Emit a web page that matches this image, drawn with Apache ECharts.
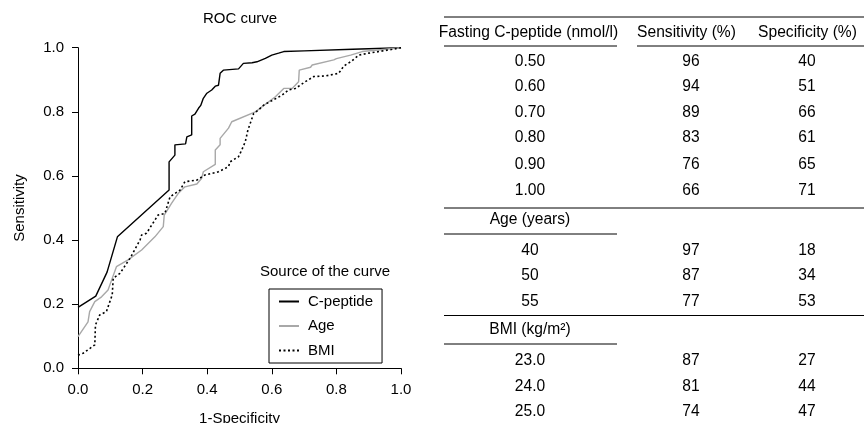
<!DOCTYPE html>
<html><head><meta charset="utf-8">
<script src="https://cdn.jsdelivr.net/npm/echarts@6/dist/echarts.min.js"></script>
<style>html,body{margin:0;padding:0;background:#fff}#c{width:864px;height:423px}</style>
</head><body><div id="c"></div>
<script>
// ROC curve data [1-specificity, sensitivity]
const cPeptideRoc = [[0,0.19],[0.055,0.225],[0.09,0.30],[0.122,0.41],[0.282,0.556],[0.282,0.644],[0.30,0.665],[0.30,0.697],[0.333,0.70],[0.337,0.722],[0.352,0.728],[0.352,0.787],[0.362,0.793],[0.373,0.811],[0.38,0.82],[0.388,0.842],[0.399,0.858],[0.414,0.868],[0.425,0.88],[0.435,0.883],[0.44,0.92],[0.45,0.93],[0.497,0.934],[0.512,0.951],[0.539,0.953],[0.554,0.956],[0.58,0.967],[0.60,0.977],[0.621,0.983],[0.637,0.988],[0.70,0.99],[0.85,0.995],[1,1]];
const ageRoc = [[0,0.099],[0.031,0.145],[0.036,0.177],[0.052,0.208],[0.073,0.223],[0.093,0.244],[0.104,0.275],[0.119,0.317],[0.155,0.338],[0.197,0.369],[0.238,0.41],[0.264,0.442],[0.267,0.478],[0.29,0.515],[0.31,0.545],[0.331,0.566],[0.368,0.575],[0.383,0.593],[0.388,0.613],[0.425,0.636],[0.425,0.681],[0.44,0.697],[0.44,0.717],[0.466,0.749],[0.476,0.769],[0.549,0.80],[0.611,0.847],[0.637,0.873],[0.663,0.873],[0.683,0.894],[0.685,0.93],[0.72,0.939],[0.725,0.946],[0.792,0.962],[0.80,0.966],[0.844,0.977],[0.85,0.983],[0.88,0.988],[1,1]];
const bmiRoc = [[0,0.041],[0.016,0.047],[0.052,0.073],[0.054,0.135],[0.067,0.166],[0.088,0.177],[0.106,0.229],[0.109,0.281],[0.13,0.296],[0.161,0.343],[0.192,0.40],[0.197,0.416],[0.212,0.421],[0.248,0.478],[0.269,0.483],[0.285,0.535],[0.316,0.556],[0.331,0.582],[0.368,0.587],[0.393,0.603],[0.435,0.613],[0.466,0.629],[0.471,0.644],[0.497,0.66],[0.507,0.681],[0.518,0.707],[0.526,0.743],[0.544,0.795],[0.559,0.806],[0.575,0.821],[0.595,0.832],[0.632,0.852],[0.652,0.868],[0.673,0.873],[0.704,0.894],[0.73,0.91],[0.766,0.912],[0.807,0.92],[0.823,0.943],[0.844,0.956],[0.87,0.977],[0.90,0.983],[0.932,0.988],[0.973,0.995],[1,1]];
const seriesNames = ['C-peptide','Age','BMI'];

// Table
const tableHeaders = ['Fasting C-peptide (nmol/l)','Sensitivity (%)','Specificity (%)'];
const cpepCut = ['0.50','0.60','0.70','0.80','0.90','1.00'];
const cpepSens = [96,94,89,83,76,66];
const cpepSpec = [40,51,66,61,65,71];
const ageHeader = 'Age (years)';
const ageCut = ['40','50','55'];
const ageSens = [97,87,77];
const ageSpec = [18,34,53];
const bmiHeader = 'BMI (kg/m²)';
const bmiCut = ['23.0','24.0','25.0'];
const bmiSens = [87,81,74];
const bmiSpec = [27,44,47];

const FONT = '"Liberation Sans", Arial, sans-serif';
const FS = 15;
const TFS = 15.6;
const colX = [530, 691, 807];
const headX = [528.5, 686.5, 807.5];
function T(x, y, s, fs) {
  return {type:'text', x:x, y:y, silent:true, style:{text:String(s), align:'center', verticalAlign:'middle', fill:'#000', fontSize:fs || TFS, fontFamily:FONT}};
}
function L(x1, x2, y) {
  return {type:'line', silent:true, shape:{x1:x1, y1:y, x2:x2, y2:y}, style:{stroke:'#000', lineWidth:1}};
}
const g = [];
g.push(T(240, 19, 'ROC curve', FS));
g.push(T(325, 272, 'Source of the curve', FS));
// table rules
g.push(L(444, 864, 17));
g.push(L(444, 617, 46));
g.push(L(637, 864, 46));
g.push(L(444, 864, 208));
g.push(L(444, 617, 234));
g.push(L(444, 864, 315.5));
g.push(L(444, 617, 344));
tableHeaders.forEach((h, i) => g.push(T(headX[i], 33, h)));
const cpRows = [61.5, 87, 112.5, 138, 165, 191];
cpepCut.forEach((c, i) => { g.push(T(colX[0], cpRows[i], c)); g.push(T(colX[1], cpRows[i], cpepSens[i])); g.push(T(colX[2], cpRows[i], cpepSpec[i])); });
g.push(T(colX[0], 220, ageHeader));
const ageRows = [250.5, 276, 301.5];
ageCut.forEach((c, i) => { g.push(T(colX[0], ageRows[i], c)); g.push(T(colX[1], ageRows[i], ageSens[i])); g.push(T(colX[2], ageRows[i], ageSpec[i])); });
g.push(T(colX[0], 330, bmiHeader));
const bmiRows = [361, 386.5, 412];
bmiCut.forEach((c, i) => { g.push(T(colX[0], bmiRows[i], c)); g.push(T(colX[1], bmiRows[i], bmiSens[i])); g.push(T(colX[2], bmiRows[i], bmiSpec[i])); });

const chart = echarts.init(document.getElementById('c'), null, {renderer:'canvas'});
const axisCommon = {
  type:'value', min:0, max:1, interval:0.2,
  axisLine:{show:true, lineStyle:{color:'#000', width:1}},
  axisTick:{show:true, length:6, lineStyle:{color:'#000'}},
  splitLine:{show:false},
  axisLabel:{color:'#000', fontSize:FS, fontFamily:FONT, formatter:v => v.toFixed(1)},
  nameTextStyle:{color:'#000', fontSize:FS, fontFamily:FONT},
  nameLocation:'middle'
};
chart.setOption({
  animation:false,
  textStyle:{fontFamily:FONT},
  grid:{left:78, right:463, top:47.7, bottom:54.7, containLabel:false, outerBoundsMode:'none'},
  xAxis:Object.assign({}, axisCommon, {name:'1-Specificity', nameGap:43, axisLabel:Object.assign({}, axisCommon.axisLabel, {margin:14})}),
  yAxis:Object.assign({}, axisCommon, {name:'Sensitivity', nameGap:51, axisLabel:Object.assign({}, axisCommon.axisLabel, {margin:14})}),
  legend:{
    orient:'vertical', left:269, top:289,
    data:seriesNames,
    itemWidth:20, itemHeight:14, itemGap:9.5,
    padding:[5,9,5,9],
    borderColor:'#000', borderWidth:1,
    itemStyle:{opacity:0},
    textStyle:{color:'#000', fontSize:FS, fontFamily:FONT, padding:[0,0,0,4]}
  },
  series:[
    {name:seriesNames[0], type:'line', data:cPeptideRoc, symbol:'none', lineStyle:{color:'#000', width:1.4}, itemStyle:{color:'#000'}},
    {name:seriesNames[1], type:'line', data:ageRoc, symbol:'none', lineStyle:{color:'#a8a8a8', width:1.4}, itemStyle:{color:'#a8a8a8'}},
    {name:seriesNames[2], type:'line', data:bmiRoc, symbol:'none', lineStyle:{color:'#000', width:1.6, type:[2,2.5]}, itemStyle:{color:'#000'}}
  ],
  graphic:g
});
</script>
</body></html>
